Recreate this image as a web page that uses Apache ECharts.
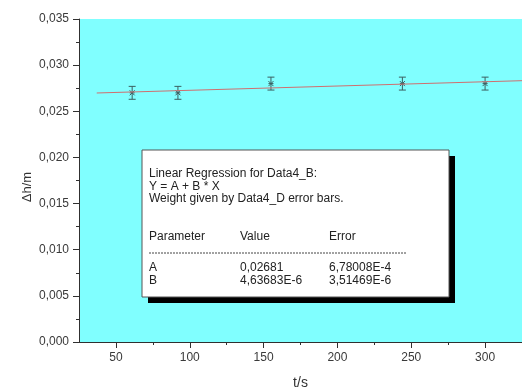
<!DOCTYPE html>
<html>
<head>
<meta charset="utf-8">
<script src="https://cdn.jsdelivr.net/npm/echarts@6/dist/echarts.min.js"></script>
<style>
  html, body { margin: 0; padding: 0; background: #ffffff; }
  #chart { width: 522px; height: 392px; }
</style>
</head>
<body>
<div id="chart"></div>
<script>
// Measured water-level change Δh over time t, with error bars
const timeS = [61, 92, 155, 244, 300];
const deltaH = [0.027, 0.027, 0.028, 0.028, 0.028];
const deltaHErr = [0.0007, 0.0007, 0.0007, 0.0007, 0.0007];

// Weighted linear fit Y = A + B * X
const paramNames = ['A', 'B'];
const paramValues = [0.02681, 4.63683e-6];
const paramErrors = [6.78008e-4, 3.51469e-6];
const fitRange = [37, 325];

// Axis ticks
const xMajorTicks = [50, 100, 150, 200, 250, 300];
const xMinorTicks = [75, 125, 175, 225, 275, 325];

const FONT = '"Liberation Sans", Arial, sans-serif';
const AXIS_COLOR = '#303030';
const LABEL_COLOR = '#3a3a3a';

function fmtNum(v) {
  const s = Math.abs(v) < 1e-3 ? v.toExponential(5).replace('e', 'E') : String(v);
  return s.replace('.', ',');
}

const fitLine = fitRange.map(t => [t, paramValues[0] + paramValues[1] * t]);
const points = timeS.map((t, i) => [t, deltaH[i], deltaHErr[i]]);

const chart = echarts.init(document.getElementById('chart'), null, { renderer: 'canvas' });

// Results box
const boxX = 142, boxY = 150, boxW = 307, boxH = 147, shadow = 6;
const textLeft = 149, colValue = 240, colError = 329;
const boxChildren = [
  { type: 'rect', shape: { x: boxX + shadow, y: boxY + shadow, width: boxW, height: boxH }, style: { fill: '#000000' } },
  { type: 'rect', shape: { x: boxX, y: boxY, width: boxW, height: boxH }, style: { fill: '#ffffff', stroke: '#555555', lineWidth: 1 } }
];
const headLines = ['Linear Regression for Data4_B:', 'Y = A + B * X', 'Weight given by Data4_D error bars.'];
const headY = [174, 187, 199];
headLines.forEach((t, i) => {
  boxChildren.push({ type: 'text', x: textLeft, y: headY[i], style: { text: t, font: '12px ' + FONT, fill: '#222222', verticalAlign: 'middle' } });
});
const tableHead = ['Parameter', 'Value', 'Error'];
const cols = [textLeft, colValue, colError];
tableHead.forEach((t, i) => {
  boxChildren.push({ type: 'text', x: cols[i], y: 237, style: { text: t, font: '12px ' + FONT, fill: '#222222', verticalAlign: 'middle' } });
});
boxChildren.push({ type: 'line', shape: { x1: textLeft, y1: 253, x2: 407, y2: 253 }, style: { stroke: '#444444', lineWidth: 1, lineDash: [2, 1] } });
const rowY = [268, 281];
paramNames.forEach((n, r) => {
  const cells = [n, fmtNum(paramValues[r]), fmtNum(paramErrors[r])];
  cells.forEach((t, i) => {
    boxChildren.push({ type: 'text', x: cols[i], y: rowY[r], style: { text: t, font: '12px ' + FONT, fill: '#222222', verticalAlign: 'middle' } });
  });
});

const option = {
  animation: false,
  backgroundColor: '#ffffff',
  grid: {
    left: 79, top: 19, right: 0, bottom: 50,
    outerBoundsMode: 'none', containLabel: false,
    show: true, backgroundColor: '#80ffff', borderWidth: 0
  },
  xAxis: [
    {
      type: 'value', min: 25, max: 325,
      name: 't/s', nameLocation: 'middle', nameGap: 34,
      nameTextStyle: { fontFamily: FONT, fontSize: 14, color: '#333333' },
      axisLine: { show: true, lineStyle: { color: AXIS_COLOR, width: 1 } },
      axisTick: { show: true, length: 6, customValues: xMajorTicks, lineStyle: { color: AXIS_COLOR } },
      axisLabel: { customValues: xMajorTicks, margin: 10, fontFamily: FONT, fontSize: 12, color: LABEL_COLOR },
      splitLine: { show: false }
    },
    {
      type: 'value', min: 25, max: 325, position: 'bottom',
      axisLine: { show: false },
      axisTick: { show: true, length: 3, customValues: xMinorTicks, lineStyle: { color: AXIS_COLOR } },
      axisLabel: { show: false },
      splitLine: { show: false }
    }
  ],
  yAxis: {
    type: 'value', min: 0, max: 0.035, interval: 0.005,
    axisLine: { show: true, lineStyle: { color: AXIS_COLOR, width: 1 } },
    axisTick: { show: true, length: 6, lineStyle: { color: AXIS_COLOR } },
    minorTick: { show: true, splitNumber: 2, length: 3, lineStyle: { color: AXIS_COLOR } },
    axisLabel: {
      margin: 10, fontFamily: FONT, fontSize: 12, color: LABEL_COLOR,
      formatter: v => v.toFixed(3).replace('.', ',')
    },
    splitLine: { show: false }
  },
  series: [
    {
      name: 'fit', type: 'line', xAxisIndex: 0, data: fitLine,
      showSymbol: false, symbol: 'none',
      lineStyle: { color: '#cf6f6f', width: 1 }
    },
    {
      name: 'Data4_B', type: 'custom', xAxisIndex: 0, data: points,
      encode: { x: 0, y: 1 },
      renderItem: (params, api) => {
        const x = api.value(0), y = api.value(1), e = api.value(2);
        const c = api.coord([x, y]);
        const hi = api.coord([x, y + e]);
        const lo = api.coord([x, y - e]);
        const cap = 3.5, m = 2.5;
        const st = { stroke: '#3b5f60', lineWidth: 1, fill: null };
        return {
          type: 'group',
          children: [
            { type: 'line', shape: { x1: c[0], y1: hi[1], x2: c[0], y2: lo[1] }, style: st },
            { type: 'line', shape: { x1: c[0] - cap, y1: hi[1], x2: c[0] + cap, y2: hi[1] }, style: st },
            { type: 'line', shape: { x1: c[0] - cap, y1: lo[1], x2: c[0] + cap, y2: lo[1] }, style: st },
            { type: 'line', shape: { x1: c[0] - m, y1: c[1] - m, x2: c[0] + m, y2: c[1] + m }, style: st },
            { type: 'line', shape: { x1: c[0] - m, y1: c[1] + m, x2: c[0] + m, y2: c[1] - m }, style: st },
            { type: 'line', shape: { x1: c[0] - m, y1: c[1], x2: c[0] + m, y2: c[1] }, style: st }
          ]
        };
      }
    }
  ],
  graphic: [
    {
      type: 'text', x: 27, y: 187, rotation: Math.PI / 2,
      style: { text: 'Δh/m', font: '13px ' + FONT, fill: '#333333', align: 'center', verticalAlign: 'middle' }
    },
    { type: 'group', z: 100, children: boxChildren }
  ]
};

chart.setOption(option);
</script>
</body>
</html>
